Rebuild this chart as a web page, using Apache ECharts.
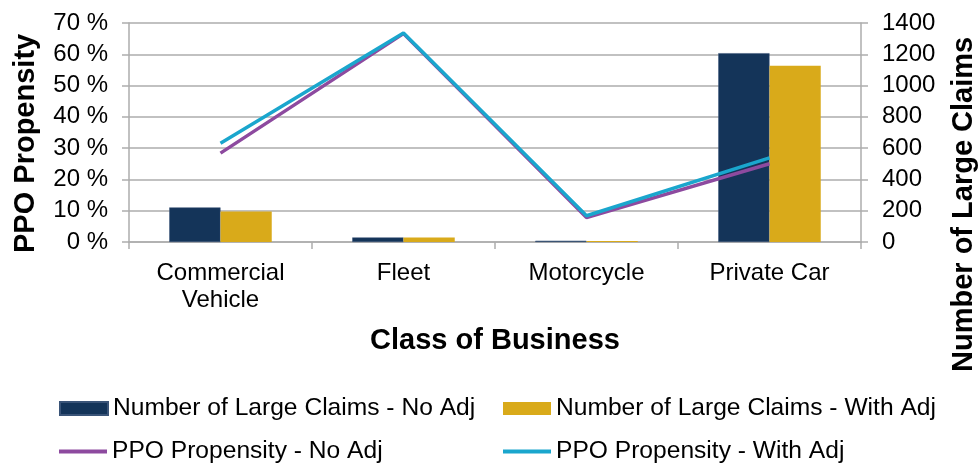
<!DOCTYPE html>
<html>
<head>
<meta charset="utf-8">
<script src="https://cdn.jsdelivr.net/npm/echarts@6/dist/echarts.min.js"></script>
<style>
  html, body { margin: 0; padding: 0; background: #fff; }
  #chart { width: 979px; height: 463px; }
</style>
</head>
<body>
<div id="chart"></div>
<script>
  // data
  const categories = ['Commercial\nVehicle', 'Fleet', 'Motorcycle', 'Private Car'];
  const claimsNoAdj = [221, 29, 8, 1207];
  const claimsWithAdj = [195, 29, 6, 1126];
  const ppoNoAdj = [28.4, 66.6, 7.8, 25.0];
  const ppoWithAdj = [31.6, 66.8, 8.4, 26.9];
  const leftTicks = [0, 10, 20, 30, 40, 50, 60, 70];
  const rightTicks = [0, 200, 400, 600, 800, 1000, 1200, 1400];

  const font = 'Liberation Sans, Arial, sans-serif';
  const gridColor = '#ADADAD';

  const chart = echarts.init(document.getElementById('chart'));

  const legendText = { color: '#000', fontSize: 24.6, fontFamily: font };
  const mkLegend = (name, left, top, isLine) => ({
    data: [name],
    left: left,
    top: top,
    padding: 0,
    itemGap: 0,
    icon: 'rect',
    itemWidth: 48,
    itemHeight: isLine ? 4 : 13,
    textStyle: legendText,
    selectedMode: false,
  });

  const option = {
    animation: false,
    grid: { left: 129, right: 118, top: 23, bottom: 221, outerBoundsMode: 'none', containLabel: false },
    legend: [
      mkLegend('Number of Large Claims - No Adj', 59, 396, false),
      mkLegend('Number of Large Claims - With Adj', 503, 396, false),
      mkLegend('PPO Propensity - No Adj', 59, 439, true),
      mkLegend('PPO Propensity - With Adj', 503, 439, true),
    ],
    // axis titles on the sides, placed by hand like the original
    graphic: [
      {
        type: 'text',
        x: 11,
        y: 253,
        rotation: Math.PI / 2,
        style: { text: 'PPO Propensity', font: 'bold 29px ' + font, fill: '#000', verticalAlign: 'top' },
      },
      {
        type: 'text',
        x: 949,
        y: 372,
        rotation: Math.PI / 2,
        style: { text: 'Number of Large Claims', font: 'bold 29px ' + font, fill: '#000', verticalAlign: 'top' },
      },
    ],
    xAxis: {
      type: 'category',
      data: categories,
      name: 'Class of Business',
      nameLocation: 'middle',
      nameGap: 84,
      nameTextStyle: { color: '#000', fontSize: 29, fontWeight: 'bold', fontFamily: font },
      axisLine: { lineStyle: { color: gridColor, width: 1.5 } },
      axisTick: { show: true, length: 7, lineStyle: { color: gridColor, width: 1.5 } },
      axisLabel: { color: '#000', fontSize: 24, fontFamily: font, margin: 18, lineHeight: 27, interval: 0 },
    },
    yAxis: [
      {
        type: 'value',
        min: 0,
        max: 70,
        interval: 10,
        axisLine: { show: true, lineStyle: { color: gridColor, width: 1.5 } },
        axisTick: { show: true, length: 7, lineStyle: { color: gridColor, width: 1.5 } },
        axisLabel: {
          color: '#000', fontSize: 24, fontFamily: font, margin: 21,
          showMinLabel: true, showMaxLabel: true, hideOverlap: false,
          formatter: (v) => (leftTicks.includes(v) ? v + ' %' : ''),
        },
        splitLine: { lineStyle: { color: gridColor, width: 1.5 } },
      },
      {
        type: 'value',
        min: 0,
        max: 1400,
        interval: 200,
        position: 'right',
        axisLine: { show: true, lineStyle: { color: gridColor, width: 1.5 } },
        axisTick: { show: true, length: 7, lineStyle: { color: gridColor, width: 1.5 } },
        axisLabel: {
          color: '#000', fontSize: 24, fontFamily: font, margin: 21,
          showMinLabel: true, showMaxLabel: true, hideOverlap: false,
          formatter: (v) => (rightTicks.includes(v) ? String(v) : ''),
        },
        splitLine: { show: false },
      },
    ],
    series: [
      {
        name: 'Number of Large Claims - No Adj',
        type: 'bar',
        yAxisIndex: 1,
        data: claimsNoAdj,
        barGap: '0%',
        barCategoryGap: '44%',
        itemStyle: { color: '#143459', borderColor: '#3a5478', borderWidth: 0.5 },
      },
      {
        name: 'Number of Large Claims - With Adj',
        type: 'bar',
        yAxisIndex: 1,
        data: claimsWithAdj,
        itemStyle: { color: '#D9AA1A' },
      },
      {
        name: 'PPO Propensity - No Adj',
        type: 'line',
        yAxisIndex: 0,
        data: ppoNoAdj,
        showSymbol: false,
        symbol: 'none',
        itemStyle: { color: '#8D4A9F' },
        lineStyle: { color: '#8D4A9F', width: 3.5 },
      },
      {
        name: 'PPO Propensity - With Adj',
        type: 'line',
        yAxisIndex: 0,
        data: ppoWithAdj,
        showSymbol: false,
        symbol: 'none',
        itemStyle: { color: '#1AA6CD' },
        lineStyle: { color: '#1AA6CD', width: 3.5 },
      },
    ],
  };

  chart.setOption(option);
</script>
</body>
</html>
